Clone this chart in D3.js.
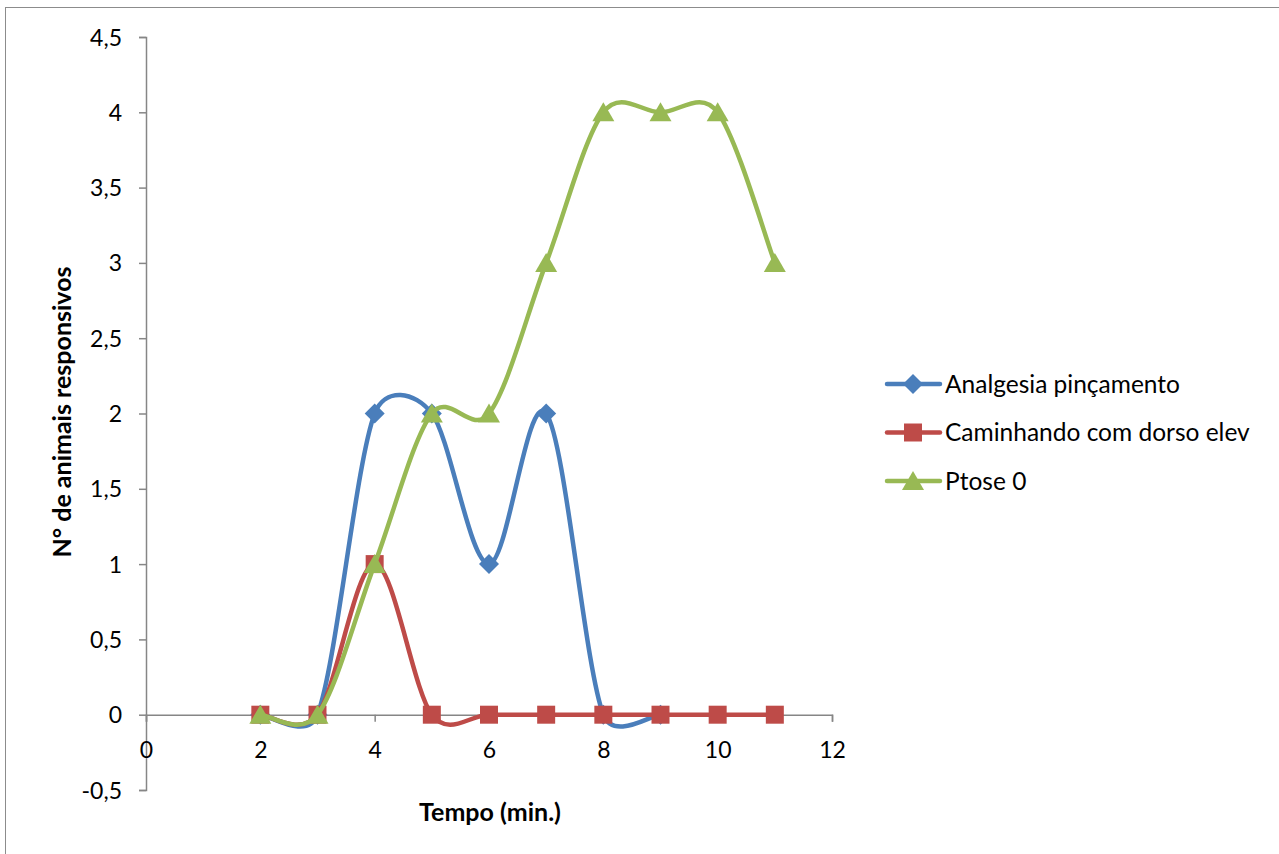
<!DOCTYPE html>
<html>
<head>
<meta charset="utf-8">
<script src="https://cdn.jsdelivr.net/npm/d3@7"></script>
<style>
  body { margin: 0; background: #fff; }
  text { font-family: Lato, "Open Sans", sans-serif; fill: #000; }
</style>
</head>
<body>
<svg id="chart" width="1279" height="854"></svg>
<script>
// dados
const tempo = [2, 3, 4, 5, 6, 7, 8, 9, 10, 11];
const analgesia = [0, 0, 2, 2, 1, 2, 0, 0];          // 2..9
const caminhando = [0, 0, 1, 0, 0, 0, 0, 0, 0, 0];   // 2..11
const ptose = [0, 0, 1, 2, 2, 3, 4, 4, 4, 3];        // 2..11
const seriesNames = ["Analgesia pinçamento", "Caminhando com dorso elev", "Ptose 0"];
const xTicks = [0, 2, 4, 6, 8, 10, 12];
const yTicks = [-0.5, 0, 0.5, 1, 1.5, 2, 2.5, 3, 3.5, 4, 4.5];

const svg = d3.select("#chart");

// borda do gráfico
svg.append("rect")
  .attr("x", 5.5).attr("y", 7.5)
  .attr("width", 1400).attr("height", 1000)
  .attr("fill", "none")
  .attr("stroke", "#8c8c8c")
  .attr("stroke-width", 1);

const x = d3.scaleLinear().domain([0, 12]).range([146, 832]);
const y = d3.scaleLinear().domain([-0.5, 4.5]).range([790, 37]);

const axisColor = "#868686";

// eixo y (em x=0)
const yAxis = svg.append("g")
  .attr("transform", "translate(" + x(0) + ",0)")
  .call(d3.axisLeft(y).tickValues(yTicks).tickSize(7).tickPadding(17)
    .tickFormat(d => String(d).replace(".", ",")));

// eixo x (em y=0)
const xAxis = svg.append("g")
  .attr("transform", "translate(0," + y(0) + ")")
  .call(d3.axisBottom(x).tickValues(xTicks).tickSize(7).tickPadding(20));

[xAxis, yAxis].forEach(g => {
  g.select(".domain").attr("stroke", axisColor).attr("stroke-width", 1.5);
  g.selectAll(".tick line").attr("stroke", axisColor).attr("stroke-width", 1.5);
  g.selectAll(".tick text").style("font-size", "23px").attr("fill", "#000");
});
yAxis.selectAll(".tick text").attr("dy", "0.35em");

// marcadores no estilo do Excel
const diamond = { draw(ctx, s) { const r = Math.sqrt(s) / 2;
  ctx.moveTo(0, -r); ctx.lineTo(r, 0); ctx.lineTo(0, r); ctx.lineTo(-r, 0); ctx.closePath(); } };
const square = { draw(ctx, s) { const r = Math.sqrt(s) / 2;
  ctx.rect(-r, -r, 2 * r, 2 * r); } };
const triangle = { draw(ctx, s) { const r = Math.sqrt(s) / 2;
  ctx.moveTo(0, -r); ctx.lineTo(r * 1.1, r * 0.9); ctx.lineTo(-r * 1.1, r * 0.9); ctx.closePath(); } };

const series = [
  { name: seriesNames[0], values: analgesia, color: "#4a7ebb", shape: diamond, size: 400 },
  { name: seriesNames[1], values: caminhando, color: "#be4b48", shape: square, size: 324 },
  { name: seriesNames[2], values: ptose, color: "#98b954", shape: triangle, size: 400 }
];

// curva suavizada como no Excel (Bezier com tensão 1/6, limitada à metade do segmento)
function excelSmooth(pts) {
  const p = d3.path();
  const dist = (a, b) => Math.hypot(a[0] - b[0], a[1] - b[1]);
  p.moveTo(pts[0][0], pts[0][1]);
  for (let i = 0; i < pts.length - 1; i++) {
    const p0 = pts[Math.max(i - 1, 0)], p1 = pts[i], p2 = pts[i + 1], p3 = pts[Math.min(i + 2, pts.length - 1)];
    const d02 = dist(p0, p2), d12 = dist(p1, p2), d13 = dist(p1, p3);
    let f0 = 1 / 6, f1 = 1 / 6;
    if (d02 / 6 >= d12 / 2 && d02 > 0) f0 = d12 / 2 / d02;
    if (d13 / 6 >= d12 / 2 && d13 > 0) f1 = d12 / 2 / d13;
    p.bezierCurveTo(
      p1[0] + f0 * (p2[0] - p0[0]), p1[1] + f0 * (p2[1] - p0[1]),
      p2[0] - f1 * (p3[0] - p1[0]), p2[1] - f1 * (p3[1] - p1[1]),
      p2[0], p2[1]);
  }
  return p.toString();
}

series.forEach(s => {
  const pts = s.values.map((v, i) => [tempo[i], v]);
  svg.append("path")
    .attr("d", excelSmooth(pts.map(d => [x(d[0]), y(d[1])])))
    .attr("fill", "none")
    .attr("stroke", s.color)
    .attr("stroke-width", 4.5)
    .attr("stroke-linejoin", "round")
    .attr("stroke-linecap", "round");
  svg.append("g").selectAll("path")
    .data(pts)
    .join("path")
    .attr("transform", d => "translate(" + x(d[0]) + "," + y(d[1]) + ")")
    .attr("d", d3.symbol().type(s.shape).size(s.size))
    .attr("fill", s.color);
});

// legenda
const legend = svg.append("g");
series.forEach((s, i) => {
  const ly = 384 + i * 48.5;
  legend.append("line")
    .attr("x1", 887).attr("x2", 940)
    .attr("y1", ly).attr("y2", ly)
    .attr("stroke", s.color).attr("stroke-width", 4.5)
    .attr("stroke-linecap", "round");
  legend.append("path")
    .attr("transform", "translate(913," + ly + ")")
    .attr("d", d3.symbol().type(s.shape).size(s.size))
    .attr("fill", s.color);
  legend.append("text")
    .attr("x", 945).attr("y", ly)
    .attr("dy", "0.35em")
    .style("font-size", "24.5px")
    .text(s.name);
});

// títulos dos eixos
svg.append("text")
  .attr("x", 490).attr("y", 812)
  .attr("text-anchor", "middle")
  .attr("dy", "0.35em")
  .style("font-size", "25px")
  .style("font-weight", "bold")
  .text("Tempo (min.)");

svg.append("text")
  .attr("transform", "translate(62,412) rotate(-90)")
  .attr("text-anchor", "middle")
  .attr("dy", "0.35em")
  .style("font-size", "25px")
  .style("font-weight", "bold")
  .text("N° de animais responsivos");
</script>
</body>
</html>
